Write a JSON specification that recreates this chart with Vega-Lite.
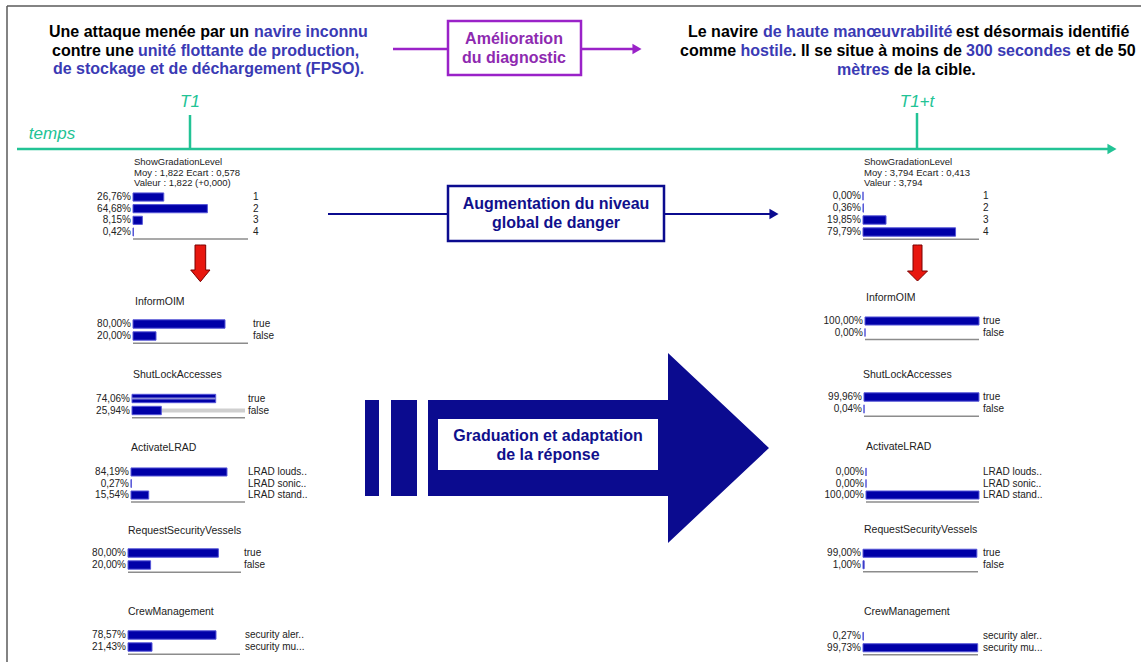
{
  "$schema": "https://vega.github.io/schema/vega-lite/v6.json",
  "width": 1141,
  "height": 662,
  "padding": 0,
  "autosize": {"type": "none"},
  "background": "white",
  "config": {
    "view": {"stroke": null},
    "font": "Liberation Sans",
    "locale": {"number": {"decimal": ",", "thousands": " ", "grouping": [3], "currency": ["", "%"]}}
  },
  "datasets": {
    "nodes": [
      {"side": "L", "node": "ShowGradationLevel", "state": "1", "pct": 26.76},
      {"side": "L", "node": "ShowGradationLevel", "state": "2", "pct": 64.68},
      {"side": "L", "node": "ShowGradationLevel", "state": "3", "pct": 8.15},
      {"side": "L", "node": "ShowGradationLevel", "state": "4", "pct": 0.42},
      {"side": "L", "node": "InformOIM", "state": "true", "pct": 80.0},
      {"side": "L", "node": "InformOIM", "state": "false", "pct": 20.0},
      {"side": "L", "node": "ShutLockAccesses", "state": "true", "pct": 74.06},
      {"side": "L", "node": "ShutLockAccesses", "state": "false", "pct": 25.94},
      {"side": "L", "node": "ActivateLRAD", "state": "LRAD louds..", "pct": 84.19},
      {"side": "L", "node": "ActivateLRAD", "state": "LRAD sonic..", "pct": 0.27},
      {"side": "L", "node": "ActivateLRAD", "state": "LRAD stand..", "pct": 15.54},
      {"side": "L", "node": "RequestSecurityVessels", "state": "true", "pct": 80.0},
      {"side": "L", "node": "RequestSecurityVessels", "state": "false", "pct": 20.0},
      {"side": "L", "node": "CrewManagement", "state": "security aler..", "pct": 78.57},
      {"side": "L", "node": "CrewManagement", "state": "security mu...", "pct": 21.43},
      {"side": "R", "node": "ShowGradationLevel", "state": "1", "pct": 0.0},
      {"side": "R", "node": "ShowGradationLevel", "state": "2", "pct": 0.36},
      {"side": "R", "node": "ShowGradationLevel", "state": "3", "pct": 19.85},
      {"side": "R", "node": "ShowGradationLevel", "state": "4", "pct": 79.79},
      {"side": "R", "node": "InformOIM", "state": "true", "pct": 100.0},
      {"side": "R", "node": "InformOIM", "state": "false", "pct": 0.0},
      {"side": "R", "node": "ShutLockAccesses", "state": "true", "pct": 99.96},
      {"side": "R", "node": "ShutLockAccesses", "state": "false", "pct": 0.04},
      {"side": "R", "node": "ActivateLRAD", "state": "LRAD louds..", "pct": 0.0},
      {"side": "R", "node": "ActivateLRAD", "state": "LRAD sonic..", "pct": 0.0},
      {"side": "R", "node": "ActivateLRAD", "state": "LRAD stand..", "pct": 100.0},
      {"side": "R", "node": "RequestSecurityVessels", "state": "true", "pct": 99.0},
      {"side": "R", "node": "RequestSecurityVessels", "state": "false", "pct": 1.0},
      {"side": "R", "node": "CrewManagement", "state": "security aler..", "pct": 0.27},
      {"side": "R", "node": "CrewManagement", "state": "security mu...", "pct": 99.73}
    ],
    "lines": [
      {"kind": "frame", "x": 7, "y": 6, "x2": 1141, "y2": 6},
      {"kind": "frame", "x": 7, "y": 6, "x2": 7, "y2": 662},
      {"kind": "teal", "x": 17, "y": 149, "x2": 1110, "y2": 149},
      {"kind": "teal", "x": 190, "y": 115, "x2": 190, "y2": 149},
      {"kind": "teal", "x": 917, "y": 113, "x2": 917, "y2": 149},
      {"kind": "purple", "x": 393, "y": 49, "x2": 448, "y2": 49},
      {"kind": "purple", "x": 581, "y": 49, "x2": 634, "y2": 49},
      {"kind": "navy", "x": 328, "y": 214, "x2": 448, "y2": 214},
      {"kind": "navy", "x": 664, "y": 214, "x2": 772, "y2": 214}
    ],
    "rects": [
      {"kind": "purplebox", "x": 448, "y": 21, "x2": 581, "y2": 75},
      {"kind": "navybox", "x": 448, "y": 186, "x2": 664, "y2": 241},
      {"kind": "navysolid", "x": 365, "y": 400, "x2": 379, "y2": 496},
      {"kind": "navysolid", "x": 391, "y": 400, "x2": 417, "y2": 496},
      {"kind": "whitebox", "x": 438, "y": 419, "x2": 658, "y2": 470}
    ],
    "shapes": [
      {"shape": "big", "x": 428, "y": 496, "y2": 400},
      {"shape": "big", "x": 668, "y": 496, "y2": 400},
      {"shape": "big", "x": 668, "y": 543, "y2": 353},
      {"shape": "big", "x": 769, "y": 448, "y2": 448},
      {"shape": "left", "x": 190.7, "y": 270, "y2": 270},
      {"shape": "left", "x": 195, "y": 275.2, "y2": 270},
      {"shape": "left", "x": 195, "y": 275.2, "y2": 245},
      {"shape": "left", "x": 200.4, "y": 281.7, "y2": 245},
      {"shape": "left", "x": 205.7, "y": 275.2, "y2": 245},
      {"shape": "left", "x": 205.7, "y": 275.2, "y2": 270},
      {"shape": "left", "x": 210, "y": 270, "y2": 270},
      {"shape": "right", "x": 907.5, "y": 271, "y2": 271},
      {"shape": "right", "x": 913, "y": 276.5, "y2": 271},
      {"shape": "right", "x": 913, "y": 276.5, "y2": 245},
      {"shape": "right", "x": 917.5, "y": 281, "y2": 245},
      {"shape": "right", "x": 922, "y": 276.5, "y2": 245},
      {"shape": "right", "x": 922, "y": 276.5, "y2": 271},
      {"shape": "right", "x": 927.5, "y": 271, "y2": 271}
    ],
    "heads": [
      {"kind": "teal", "x": 1112, "y": 149},
      {"kind": "purple", "x": 637, "y": 49},
      {"kind": "navy", "x": 774, "y": 214}
    ],
    "texts": [
      {"kind": "black", "x": 49, "y": 32, "text": "Une attaque menée par un"},
      {"kind": "black", "x": 52, "y": 51, "text": "contre une"},
      {"kind": "black", "x": 688, "y": 32, "text": "Le navire"},
      {"kind": "black", "x": 956, "y": 32, "text": "est désormais identifié"},
      {"kind": "black", "x": 680, "y": 51, "text": "comme"},
      {"kind": "black", "x": 792, "y": 51, "text": ". Il se situe à moins de"},
      {"kind": "black", "x": 1076, "y": 51, "text": "et de 50"},
      {"kind": "black", "x": 894, "y": 70, "text": "de la cible."},
      {"kind": "blue", "x": 254, "y": 32, "text": "navire inconnu"},
      {"kind": "blue", "x": 138, "y": 51, "text": "unité flottante de production,"},
      {"kind": "blue", "x": 53, "y": 69, "text": "de stockage et de déchargement (FPSO)."},
      {"kind": "blue", "x": 763, "y": 32, "text": "de haute manœuvrabilité"},
      {"kind": "blue", "x": 740.5, "y": 51, "text": "hostile"},
      {"kind": "blue", "x": 966, "y": 51, "text": "300 secondes"},
      {"kind": "blue", "x": 837, "y": 70, "text": "mètres"},
      {"kind": "purple", "x": 514, "y": 39, "text": "Amélioration"},
      {"kind": "purple", "x": 514, "y": 58, "text": "du diagnostic"},
      {"kind": "navy", "x": 556, "y": 204, "text": "Augmentation du niveau"},
      {"kind": "navy", "x": 556, "y": 223, "text": "global de danger"},
      {"kind": "navy", "x": 548, "y": 436, "text": "Graduation et adaptation"},
      {"kind": "navy", "x": 548, "y": 455, "text": "de la réponse"},
      {"kind": "teal", "x": 190, "y": 102, "text": "T1"},
      {"kind": "teal", "x": 917, "y": 102, "text": "T1+t"},
      {"kind": "teal", "x": 52, "y": 134, "text": "temps"},
      {"kind": "head", "x": 134, "y": 162, "text": "ShowGradationLevel"},
      {"kind": "head", "x": 134, "y": 172.5, "text": "Moy : 1,822 Ecart : 0,578"},
      {"kind": "head", "x": 134, "y": 183, "text": "Valeur : 1,822 (+0,000)"},
      {"kind": "node", "x": 135, "y": 302, "text": "InformOIM"},
      {"kind": "node", "x": 133, "y": 375, "text": "ShutLockAccesses"},
      {"kind": "node", "x": 131, "y": 448, "text": "ActivateLRAD"},
      {"kind": "node", "x": 128, "y": 531, "text": "RequestSecurityVessels"},
      {"kind": "node", "x": 128, "y": 612, "text": "CrewManagement"},
      {"kind": "head", "x": 864, "y": 162, "text": "ShowGradationLevel"},
      {"kind": "head", "x": 864, "y": 172.5, "text": "Moy : 3,794 Ecart : 0,413"},
      {"kind": "head", "x": 864, "y": 183, "text": "Valeur : 3,794"},
      {"kind": "node", "x": 866, "y": 298, "text": "InformOIM"},
      {"kind": "node", "x": 863, "y": 375, "text": "ShutLockAccesses"},
      {"kind": "node", "x": 866, "y": 447, "text": "ActivateLRAD"},
      {"kind": "node", "x": 864, "y": 530, "text": "RequestSecurityVessels"},
      {"kind": "node", "x": 864, "y": 612, "text": "CrewManagement"}
    ]
  },
  "resolve": {"scale": {"x": "independent", "y": "independent"}},
  "layer": [
    {
      "encoding": {
        "x": {"field": "x", "type": "quantitative", "axis": null, "scale": {"type": "linear", "domain": [0, 1141], "range": [0, 1141], "nice": false, "zero": false}},
        "y": {"field": "y", "type": "quantitative", "axis": null, "scale": {"type": "linear", "domain": [0, 662], "range": [0, 662], "nice": false, "zero": false}}
      },
      "layer": [
        {"data": {"name": "lines"}, "transform": [{"filter": "datum.kind == 'frame'"}], "mark": {"type": "rule", "color": "#5a5a5a", "strokeWidth": 1.5}, "encoding": {"x2": {"field": "x2"}, "y2": {"field": "y2"}}},
        {"data": {"name": "lines"}, "transform": [{"filter": "datum.kind == 'teal'"}], "mark": {"type": "rule", "color": "#22c395", "strokeWidth": 2.5}, "encoding": {"x2": {"field": "x2"}, "y2": {"field": "y2"}}},
        {"data": {"name": "lines"}, "transform": [{"filter": "datum.kind == 'purple'"}], "mark": {"type": "rule", "color": "#9a22c8", "strokeWidth": 2.5}, "encoding": {"x2": {"field": "x2"}, "y2": {"field": "y2"}}},
        {"data": {"name": "lines"}, "transform": [{"filter": "datum.kind == 'navy'"}], "mark": {"type": "rule", "color": "#0b0b8f", "strokeWidth": 2}, "encoding": {"x2": {"field": "x2"}, "y2": {"field": "y2"}}},
        {"data": {"name": "rects"}, "transform": [{"filter": "datum.kind == 'purplebox'"}], "mark": {"type": "rect", "fill": "white", "stroke": "#9a22c8", "strokeWidth": 2.5}, "encoding": {"x2": {"field": "x2"}, "y2": {"field": "y2"}}},
        {"data": {"name": "rects"}, "transform": [{"filter": "datum.kind == 'navybox'"}], "mark": {"type": "rect", "fill": "white", "stroke": "#0b0b8f", "strokeWidth": 2.5}, "encoding": {"x2": {"field": "x2"}, "y2": {"field": "y2"}}},
        {"data": {"name": "rects"}, "transform": [{"filter": "datum.kind == 'navysolid'"}], "mark": {"type": "rect", "fill": "#0b0b8f"}, "encoding": {"x2": {"field": "x2"}, "y2": {"field": "y2"}}},
        {"data": {"name": "shapes"}, "transform": [{"filter": "datum.shape == 'big'"}], "mark": {"type": "area", "orient": "vertical", "color": "#0b0b8f"}, "encoding": {"y": {"field": "y", "type": "quantitative", "stack": null, "axis": null, "scale": {"type": "linear", "domain": [0, 662], "range": [0, 662], "nice": false, "zero": false}}, "y2": {"field": "y2"}}},
        {"data": {"name": "rects"}, "transform": [{"filter": "datum.kind == 'whitebox'"}], "mark": {"type": "rect", "fill": "white"}, "encoding": {"x2": {"field": "x2"}, "y2": {"field": "y2"}}},
        {"data": {"name": "shapes"}, "transform": [{"filter": "datum.shape != 'big'"}], "mark": {"type": "area", "orient": "vertical", "fill": "#e8170f", "stroke": "#7a0000", "strokeWidth": 1}, "encoding": {"y": {"field": "y", "type": "quantitative", "stack": null, "axis": null, "scale": {"type": "linear", "domain": [0, 662], "range": [0, 662], "nice": false, "zero": false}}, "y2": {"field": "y2"}, "detail": {"field": "shape"}}},
        {"data": {"name": "heads"}, "mark": {"type": "point", "shape": "triangle-right", "filled": true, "size": 110, "opacity": 1}, "encoding": {"color": {"field": "kind", "type": "nominal", "legend": null, "scale": {"domain": ["teal", "purple", "navy"], "range": ["#22c395", "#9a22c8", "#0b0b8f"]}}}},
        {"data": {"name": "texts"}, "transform": [{"filter": "datum.kind == 'black'"}], "mark": {"type": "text", "align": "left", "baseline": "middle", "fontSize": 16, "fontWeight": "bold", "color": "#000000"}, "encoding": {"text": {"field": "text"}}},
        {"data": {"name": "texts"}, "transform": [{"filter": "datum.kind == 'blue'"}], "mark": {"type": "text", "align": "left", "baseline": "middle", "fontSize": 16, "fontWeight": "bold", "color": "#3a3ab4"}, "encoding": {"text": {"field": "text"}}},
        {"data": {"name": "texts"}, "transform": [{"filter": "datum.kind == 'purple'"}], "mark": {"type": "text", "align": "center", "baseline": "middle", "fontSize": 16, "fontWeight": "bold", "color": "#8e2ab0"}, "encoding": {"text": {"field": "text"}}},
        {"data": {"name": "texts"}, "transform": [{"filter": "datum.kind == 'navy'"}], "mark": {"type": "text", "align": "center", "baseline": "middle", "fontSize": 16, "fontWeight": "bold", "color": "#10108c"}, "encoding": {"text": {"field": "text"}}},
        {"data": {"name": "texts"}, "transform": [{"filter": "datum.kind == 'teal'"}], "mark": {"type": "text", "align": "center", "baseline": "middle", "fontSize": 17, "fontStyle": "italic", "color": "#22c395"}, "encoding": {"text": {"field": "text"}}},
        {"data": {"name": "texts"}, "transform": [{"filter": "datum.kind == 'node'"}], "mark": {"type": "text", "align": "left", "baseline": "middle", "fontSize": 10.5, "color": "#222222"}, "encoding": {"text": {"field": "text"}}},
        {"data": {"name": "texts"}, "transform": [{"filter": "datum.kind == 'head'"}], "mark": {"type": "text", "align": "left", "baseline": "middle", "fontSize": 9.5, "color": "#222222"}, "encoding": {"text": {"field": "text"}}}
      ]
    },
    {
      "data": {"name": "nodes"},
      "transform": [{"filter": "datum.side == 'L' && datum.node == 'ShowGradationLevel'"}],
      "encoding": {
        "x": {"field": "pct", "type": "quantitative", "axis": null, "scale": {"domain": [0, 100], "range": [133, 248], "nice": false}},
        "y": {"field": "state", "type": "nominal", "sort": null, "axis": null, "scale": {"type": "band", "domain": ["1", "2", "3", "4"], "range": [191.2, 237.8], "paddingInner": 0.3, "paddingOuter": 0.15}}
      },
      "layer": [
        {"mark": {"type": "bar", "color": "#0000a8", "stroke": "#5656d8", "strokeWidth": 1}},
        {"mark": {"type": "text", "align": "right", "baseline": "middle", "dx": -2, "fontSize": 10, "color": "#222222"}, "encoding": {"x": {"datum": 0}, "text": {"field": "pct", "type": "quantitative", "format": "$.2f"}}},
        {"mark": {"type": "text", "align": "left", "baseline": "middle", "dx": 5, "fontSize": 10, "color": "#222222"}, "encoding": {"x": {"datum": 100}, "text": {"field": "state"}}},
        {"transform": [{"filter": "datum.state == '4'"}], "mark": {"type": "rule", "color": "#8c8c8c", "strokeWidth": 1.5, "yOffset": 3}, "encoding": {"x": {"datum": 0}, "x2": {"datum": 100}, "y": {"field": "state", "type": "nominal", "sort": null, "bandPosition": 1}}}
      ]
    },
    {
      "data": {"name": "nodes"},
      "transform": [{"filter": "datum.side == 'L' && datum.node == 'InformOIM'"}],
      "encoding": {
        "x": {"field": "pct", "type": "quantitative", "axis": null, "scale": {"domain": [0, 100], "range": [133, 248], "nice": false}},
        "y": {"field": "state", "type": "nominal", "sort": null, "axis": null, "scale": {"type": "band", "domain": ["true", "false"], "range": [318, 342], "paddingInner": 0.3, "paddingOuter": 0.15}}
      },
      "layer": [
        {"mark": {"type": "bar", "color": "#0000a8", "stroke": "#5656d8", "strokeWidth": 1}},
        {"mark": {"type": "text", "align": "right", "baseline": "middle", "dx": -2, "fontSize": 10, "color": "#222222"}, "encoding": {"x": {"datum": 0}, "text": {"field": "pct", "type": "quantitative", "format": "$.2f"}}},
        {"mark": {"type": "text", "align": "left", "baseline": "middle", "dx": 5, "fontSize": 10, "color": "#222222"}, "encoding": {"x": {"datum": 100}, "text": {"field": "state"}}},
        {"transform": [{"filter": "datum.state == 'false'"}], "mark": {"type": "rule", "color": "#8c8c8c", "strokeWidth": 1.5, "yOffset": 3}, "encoding": {"x": {"datum": 0}, "x2": {"datum": 100}, "y": {"field": "state", "type": "nominal", "sort": null, "bandPosition": 1}}}
      ]
    },
    {
      "data": {"name": "nodes"},
      "transform": [{"filter": "datum.side == 'L' && datum.node == 'ShutLockAccesses'"}],
      "encoding": {
        "x": {"field": "pct", "type": "quantitative", "axis": null, "scale": {"domain": [0, 100], "range": [132, 245], "nice": false}},
        "y": {"field": "state", "type": "nominal", "sort": null, "axis": null, "scale": {"type": "band", "domain": ["true", "false"], "range": [392.5, 416.5], "paddingInner": 0.3, "paddingOuter": 0.15}}
      },
      "layer": [
        {"transform": [{"filter": "datum.state == 'false'"}], "mark": {"type": "bar", "color": "#cfcfcf", "height": 4}, "encoding": {"x": {"datum": 100}, "x2": {"datum": 0}}},
        {"mark": {"type": "bar", "color": "#0000a8", "stroke": "#5656d8", "strokeWidth": 1}},
        {"transform": [{"filter": "datum.state == 'true'"}], "mark": {"type": "bar", "color": "#8a8ad8", "height": 2}},
        {"mark": {"type": "text", "align": "right", "baseline": "middle", "dx": -2, "fontSize": 10, "color": "#222222"}, "encoding": {"x": {"datum": 0}, "text": {"field": "pct", "type": "quantitative", "format": "$.2f"}}},
        {"mark": {"type": "text", "align": "left", "baseline": "middle", "dx": 3, "fontSize": 10, "color": "#222222"}, "encoding": {"x": {"datum": 100}, "text": {"field": "state"}}},
        {"transform": [{"filter": "datum.state == 'false'"}], "mark": {"type": "rule", "color": "#8c8c8c", "strokeWidth": 1.5, "yOffset": 3}, "encoding": {"x": {"datum": 0}, "x2": {"datum": 100}, "y": {"field": "state", "type": "nominal", "sort": null, "bandPosition": 1}}}
      ]
    },
    {
      "data": {"name": "nodes"},
      "transform": [{"filter": "datum.side == 'L' && datum.node == 'ActivateLRAD'"}],
      "encoding": {
        "x": {"field": "pct", "type": "quantitative", "axis": null, "scale": {"domain": [0, 100], "range": [131, 245], "nice": false}},
        "y": {"field": "state", "type": "nominal", "sort": null, "axis": null, "scale": {"type": "band", "domain": ["LRAD louds..", "LRAD sonic..", "LRAD stand.."], "range": [466.2, 500.8], "paddingInner": 0.3, "paddingOuter": 0.15}}
      },
      "layer": [
        {"mark": {"type": "bar", "color": "#0000a8", "stroke": "#5656d8", "strokeWidth": 1}},
        {"mark": {"type": "text", "align": "right", "baseline": "middle", "dx": -2, "fontSize": 10, "color": "#222222"}, "encoding": {"x": {"datum": 0}, "text": {"field": "pct", "type": "quantitative", "format": "$.2f"}}},
        {"mark": {"type": "text", "align": "left", "baseline": "middle", "dx": 3, "fontSize": 10, "color": "#222222"}, "encoding": {"x": {"datum": 100}, "text": {"field": "state"}}},
        {"transform": [{"filter": "datum.state == 'LRAD stand..'"}], "mark": {"type": "rule", "color": "#8c8c8c", "strokeWidth": 1.5, "yOffset": 3}, "encoding": {"x": {"datum": 0}, "x2": {"datum": 100}, "y": {"field": "state", "type": "nominal", "sort": null, "bandPosition": 1}}}
      ]
    },
    {
      "data": {"name": "nodes"},
      "transform": [{"filter": "datum.side == 'L' && datum.node == 'RequestSecurityVessels'"}],
      "encoding": {
        "x": {"field": "pct", "type": "quantitative", "axis": null, "scale": {"domain": [0, 100], "range": [128, 241], "nice": false}},
        "y": {"field": "state", "type": "nominal", "sort": null, "axis": null, "scale": {"type": "band", "domain": ["true", "false"], "range": [547, 571], "paddingInner": 0.3, "paddingOuter": 0.15}}
      },
      "layer": [
        {"mark": {"type": "bar", "color": "#0000a8", "stroke": "#5656d8", "strokeWidth": 1}},
        {"mark": {"type": "text", "align": "right", "baseline": "middle", "dx": -2, "fontSize": 10, "color": "#222222"}, "encoding": {"x": {"datum": 0}, "text": {"field": "pct", "type": "quantitative", "format": "$.2f"}}},
        {"mark": {"type": "text", "align": "left", "baseline": "middle", "dx": 3, "fontSize": 10, "color": "#222222"}, "encoding": {"x": {"datum": 100}, "text": {"field": "state"}}},
        {"transform": [{"filter": "datum.state == 'false'"}], "mark": {"type": "rule", "color": "#8c8c8c", "strokeWidth": 1.5, "yOffset": 3}, "encoding": {"x": {"datum": 0}, "x2": {"datum": 100}, "y": {"field": "state", "type": "nominal", "sort": null, "bandPosition": 1}}}
      ]
    },
    {
      "data": {"name": "nodes"},
      "transform": [{"filter": "datum.side == 'L' && datum.node == 'CrewManagement'"}],
      "encoding": {
        "x": {"field": "pct", "type": "quantitative", "axis": null, "scale": {"domain": [0, 100], "range": [128, 240], "nice": false}},
        "y": {"field": "state", "type": "nominal", "sort": null, "axis": null, "scale": {"type": "band", "domain": ["security aler..", "security mu..."], "range": [629, 653], "paddingInner": 0.3, "paddingOuter": 0.15}}
      },
      "layer": [
        {"mark": {"type": "bar", "color": "#0000a8", "stroke": "#5656d8", "strokeWidth": 1}},
        {"mark": {"type": "text", "align": "right", "baseline": "middle", "dx": -2, "fontSize": 10, "color": "#222222"}, "encoding": {"x": {"datum": 0}, "text": {"field": "pct", "type": "quantitative", "format": "$.2f"}}},
        {"mark": {"type": "text", "align": "left", "baseline": "middle", "dx": 5, "fontSize": 10, "color": "#222222"}, "encoding": {"x": {"datum": 100}, "text": {"field": "state"}}},
        {"transform": [{"filter": "datum.state == 'security mu...'"}], "mark": {"type": "rule", "color": "#8c8c8c", "strokeWidth": 1.5, "yOffset": 3}, "encoding": {"x": {"datum": 0}, "x2": {"datum": 100}, "y": {"field": "state", "type": "nominal", "sort": null, "bandPosition": 1}}}
      ]
    },
    {
      "data": {"name": "nodes"},
      "transform": [{"filter": "datum.side == 'R' && datum.node == 'ShowGradationLevel'"}],
      "encoding": {
        "x": {"field": "pct", "type": "quantitative", "axis": null, "scale": {"domain": [0, 100], "range": [863, 979], "nice": false}},
        "y": {"field": "state", "type": "nominal", "sort": null, "axis": null, "scale": {"type": "band", "domain": ["1", "2", "3", "4"], "range": [190, 238], "paddingInner": 0.3, "paddingOuter": 0.15}}
      },
      "layer": [
        {"mark": {"type": "bar", "color": "#0000a8", "stroke": "#5656d8", "strokeWidth": 1}},
        {"mark": {"type": "text", "align": "right", "baseline": "middle", "dx": -2, "fontSize": 10, "color": "#222222"}, "encoding": {"x": {"datum": 0}, "text": {"field": "pct", "type": "quantitative", "format": "$.2f"}}},
        {"mark": {"type": "text", "align": "left", "baseline": "middle", "dx": 4, "fontSize": 10, "color": "#222222"}, "encoding": {"x": {"datum": 100}, "text": {"field": "state"}}},
        {"transform": [{"filter": "datum.state == '4'"}], "mark": {"type": "rule", "color": "#8c8c8c", "strokeWidth": 1.5, "yOffset": 3}, "encoding": {"x": {"datum": 0}, "x2": {"datum": 100}, "y": {"field": "state", "type": "nominal", "sort": null, "bandPosition": 1}}}
      ]
    },
    {
      "data": {"name": "nodes"},
      "transform": [{"filter": "datum.side == 'R' && datum.node == 'InformOIM'"}],
      "encoding": {
        "x": {"field": "pct", "type": "quantitative", "axis": null, "scale": {"domain": [0, 100], "range": [865, 979], "nice": false}},
        "y": {"field": "state", "type": "nominal", "sort": null, "axis": null, "scale": {"type": "band", "domain": ["true", "false"], "range": [315.25, 338.25], "paddingInner": 0.3, "paddingOuter": 0.15}}
      },
      "layer": [
        {"mark": {"type": "bar", "color": "#0000a8", "stroke": "#5656d8", "strokeWidth": 1}},
        {"mark": {"type": "text", "align": "right", "baseline": "middle", "dx": -2, "fontSize": 10, "color": "#222222"}, "encoding": {"x": {"datum": 0}, "text": {"field": "pct", "type": "quantitative", "format": "$.2f"}}},
        {"mark": {"type": "text", "align": "left", "baseline": "middle", "dx": 4, "fontSize": 10, "color": "#222222"}, "encoding": {"x": {"datum": 100}, "text": {"field": "state"}}},
        {"transform": [{"filter": "datum.state == 'false'"}], "mark": {"type": "rule", "color": "#8c8c8c", "strokeWidth": 1.5, "yOffset": 3}, "encoding": {"x": {"datum": 0}, "x2": {"datum": 100}, "y": {"field": "state", "type": "nominal", "sort": null, "bandPosition": 1}}}
      ]
    },
    {
      "data": {"name": "nodes"},
      "transform": [{"filter": "datum.side == 'R' && datum.node == 'ShutLockAccesses'"}],
      "encoding": {
        "x": {"field": "pct", "type": "quantitative", "axis": null, "scale": {"domain": [0, 100], "range": [864, 979], "nice": false}},
        "y": {"field": "state", "type": "nominal", "sort": null, "axis": null, "scale": {"type": "band", "domain": ["true", "false"], "range": [391, 415], "paddingInner": 0.3, "paddingOuter": 0.15}}
      },
      "layer": [
        {"mark": {"type": "bar", "color": "#0000a8", "stroke": "#5656d8", "strokeWidth": 1}},
        {"mark": {"type": "text", "align": "right", "baseline": "middle", "dx": -2, "fontSize": 10, "color": "#222222"}, "encoding": {"x": {"datum": 0}, "text": {"field": "pct", "type": "quantitative", "format": "$.2f"}}},
        {"mark": {"type": "text", "align": "left", "baseline": "middle", "dx": 4, "fontSize": 10, "color": "#222222"}, "encoding": {"x": {"datum": 100}, "text": {"field": "state"}}},
        {"transform": [{"filter": "datum.state == 'false'"}], "mark": {"type": "rule", "color": "#8c8c8c", "strokeWidth": 1.5, "yOffset": 3}, "encoding": {"x": {"datum": 0}, "x2": {"datum": 100}, "y": {"field": "state", "type": "nominal", "sort": null, "bandPosition": 1}}}
      ]
    },
    {
      "data": {"name": "nodes"},
      "transform": [{"filter": "datum.side == 'R' && datum.node == 'ActivateLRAD'"}],
      "encoding": {
        "x": {"field": "pct", "type": "quantitative", "axis": null, "scale": {"domain": [0, 100], "range": [866, 979], "nice": false}},
        "y": {"field": "state", "type": "nominal", "sort": null, "axis": null, "scale": {"type": "band", "domain": ["LRAD louds..", "LRAD sonic..", "LRAD stand.."], "range": [466.2, 500.8], "paddingInner": 0.3, "paddingOuter": 0.15}}
      },
      "layer": [
        {"mark": {"type": "bar", "color": "#0000a8", "stroke": "#5656d8", "strokeWidth": 1}},
        {"mark": {"type": "text", "align": "right", "baseline": "middle", "dx": -2, "fontSize": 10, "color": "#222222"}, "encoding": {"x": {"datum": 0}, "text": {"field": "pct", "type": "quantitative", "format": "$.2f"}}},
        {"mark": {"type": "text", "align": "left", "baseline": "middle", "dx": 4, "fontSize": 10, "color": "#222222"}, "encoding": {"x": {"datum": 100}, "text": {"field": "state"}}},
        {"transform": [{"filter": "datum.state == 'LRAD stand..'"}], "mark": {"type": "rule", "color": "#8c8c8c", "strokeWidth": 1.5, "yOffset": 3}, "encoding": {"x": {"datum": 0}, "x2": {"datum": 100}, "y": {"field": "state", "type": "nominal", "sort": null, "bandPosition": 1}}}
      ]
    },
    {
      "data": {"name": "nodes"},
      "transform": [{"filter": "datum.side == 'R' && datum.node == 'RequestSecurityVessels'"}],
      "encoding": {
        "x": {"field": "pct", "type": "quantitative", "axis": null, "scale": {"domain": [0, 100], "range": [863, 978], "nice": false}},
        "y": {"field": "state", "type": "nominal", "sort": null, "axis": null, "scale": {"type": "band", "domain": ["true", "false"], "range": [547.5, 570.5], "paddingInner": 0.3, "paddingOuter": 0.15}}
      },
      "layer": [
        {"mark": {"type": "bar", "color": "#0000a8", "stroke": "#5656d8", "strokeWidth": 1}},
        {"mark": {"type": "text", "align": "right", "baseline": "middle", "dx": -2, "fontSize": 10, "color": "#222222"}, "encoding": {"x": {"datum": 0}, "text": {"field": "pct", "type": "quantitative", "format": "$.2f"}}},
        {"mark": {"type": "text", "align": "left", "baseline": "middle", "dx": 5, "fontSize": 10, "color": "#222222"}, "encoding": {"x": {"datum": 100}, "text": {"field": "state"}}},
        {"transform": [{"filter": "datum.state == 'false'"}], "mark": {"type": "rule", "color": "#8c8c8c", "strokeWidth": 1.5, "yOffset": 3}, "encoding": {"x": {"datum": 0}, "x2": {"datum": 100}, "y": {"field": "state", "type": "nominal", "sort": null, "bandPosition": 1}}}
      ]
    },
    {
      "data": {"name": "nodes"},
      "transform": [{"filter": "datum.side == 'R' && datum.node == 'CrewManagement'"}],
      "encoding": {
        "x": {"field": "pct", "type": "quantitative", "axis": null, "scale": {"domain": [0, 100], "range": [863, 978], "nice": false}},
        "y": {"field": "state", "type": "nominal", "sort": null, "axis": null, "scale": {"type": "band", "domain": ["security aler..", "security mu..."], "range": [630.5, 653.5], "paddingInner": 0.3, "paddingOuter": 0.15}}
      },
      "layer": [
        {"mark": {"type": "bar", "color": "#0000a8", "stroke": "#5656d8", "strokeWidth": 1}},
        {"mark": {"type": "text", "align": "right", "baseline": "middle", "dx": -2, "fontSize": 10, "color": "#222222"}, "encoding": {"x": {"datum": 0}, "text": {"field": "pct", "type": "quantitative", "format": "$.2f"}}},
        {"mark": {"type": "text", "align": "left", "baseline": "middle", "dx": 5, "fontSize": 10, "color": "#222222"}, "encoding": {"x": {"datum": 100}, "text": {"field": "state"}}},
        {"transform": [{"filter": "datum.state == 'security mu...'"}], "mark": {"type": "rule", "color": "#8c8c8c", "strokeWidth": 1.5, "yOffset": 3}, "encoding": {"x": {"datum": 0}, "x2": {"datum": 100}, "y": {"field": "state", "type": "nominal", "sort": null, "bandPosition": 1}}}
      ]
    }
  ]
}
